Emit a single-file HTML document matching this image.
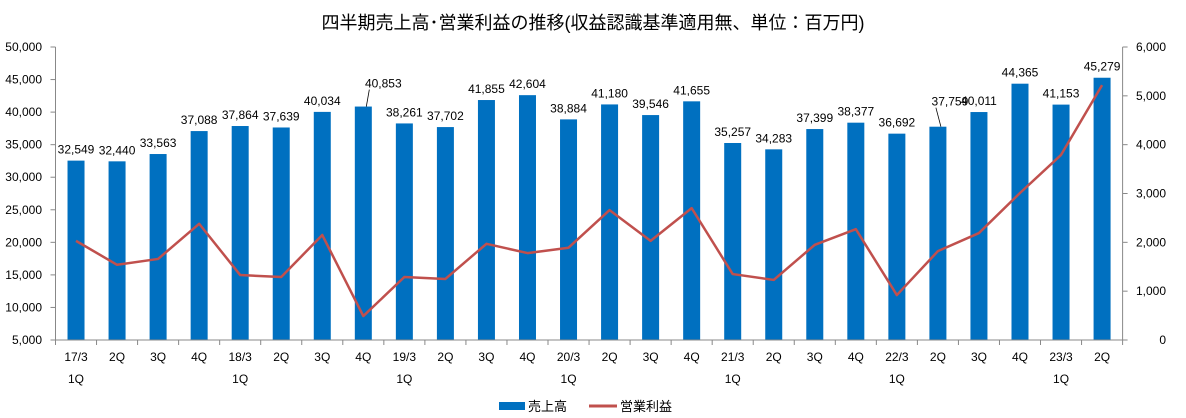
<!DOCTYPE html>
<html><head><meta charset="utf-8"><style>
body{margin:0;background:#fff;}
svg{display:block;font-family:"Liberation Sans","Noto Sans CJK JP",sans-serif;}
</style></head><body>
<svg id="chart" width="1186" height="418" viewBox="0 0 1186 418">
<text x="593" y="29" text-anchor="middle" font-size="18" fill="#000">四半期売上高･営業利益の推移(収益認識基準適用無、単位：百万円)</text>
<g id="grid"></g><g id="bars"></g><g id="line"></g><g id="labels"></g><g id="axes"></g>
<g>
<rect x="499" y="402" width="26" height="8" fill="#0070C0"/>
<text x="528" y="411" font-size="13">売上高</text>
<line x1="589" y1="406" x2="617" y2="406" stroke="#C0504D" stroke-width="3"/>
<text x="620" y="411" font-size="13">営業利益</text>
</g>
</svg>
<script>
const categories=["17/3|1Q","2Q","3Q","4Q","18/3|1Q","2Q","3Q","4Q","19/3|1Q","2Q","3Q","4Q","20/3|1Q","2Q","3Q","4Q","21/3|1Q","2Q","3Q","4Q","22/3|1Q","2Q","3Q","4Q","23/3|1Q","2Q"];
const sales=[32549,32440,33563,37088,37864,37639,40034,40853,38261,37702,41855,42604,38884,41180,39546,41655,35257,34283,37399,38377,36692,37759,40011,44365,41153,45279];
const profit=[2030,1540,1660,2380,1330,1290,2150,490,1290,1250,1970,1780,1890,2660,2030,2700,1350,1230,1950,2270,920,1820,2190,3010,3790,5220];
const leftTicks=[5000,10000,15000,20000,25000,30000,35000,40000,45000,50000];
const rightTicks=[0,1000,2000,3000,4000,5000,6000];
const NS="http://www.w3.org/2000/svg";
const L=55.5,R=1122.6,T=47,B=340;
const step=(R-L)/categories.length;
const xc=i=>L+step*(i+0.5);
const yL=v=>B-(v-5000)/45000*(B-T);
const yR=v=>B-v/6000*(B-T);
function mk(tag,attrs,parent,txt){const e=document.createElementNS(NS,tag);for(const k in attrs)e.setAttribute(k,attrs[k]);if(txt!==undefined)e.textContent=txt;document.getElementById(parent).appendChild(e);return e;}
const fmt=v=>v.toLocaleString("en-US");
leftTicks.forEach(v=>{
 const t=mk("text",{x:42,y:yL(v)+4,"text-anchor":"end","font-size":12},"axes",fmt(v));
 
 
 const tk=mk("line",{x1:L-5,x2:L,y1:yL(v),y2:yL(v),stroke:"#888"},"axes");
 
 
});
rightTicks.forEach(v=>{
 const t=mk("text",{x:1166,y:yR(v)+4,"text-anchor":"end","font-size":12},"axes",fmt(v));
 
 
 const tk=mk("line",{x1:R,x2:R+5,y1:yR(v),y2:yR(v),stroke:"#888"},"axes");
 
 
});
[["left-axis",L,L,T,B],["right-axis",R,R,T,B],["x-axis",L,R,B,B]].forEach(a=>{
 const l=mk("line",{x1:a[1],x2:a[2],y1:a[3],y2:a[4],stroke:"#888"},"axes");
 
 
});
for(let i=0;i<=categories.length;i++){
 const tk=mk("line",{x1:L+step*i,x2:L+step*i,y1:B,y2:B+5,stroke:"#888"},"axes");
 
 
}
categories.forEach((c,i)=>{
 const parts=c.split("|");
 parts.forEach((p,j)=>{
  const t=mk("text",{x:xc(i),y:361+j*22,"text-anchor":"middle","font-size":12},"axes",p);
  
  
 });
});
const offsets={7:[20,-12],21:[12,-14]};
sales.forEach((v,i)=>{
 const bw=17;
 const r=mk("rect",{x:xc(i)-bw/2,y:yL(v),width:bw,height:B-yL(v),fill:"#0070C0"},"bars");
 
 
 const o=offsets[i]||[0,0];
 const t=mk("text",{x:xc(i)+o[0],y:yL(v)-7+o[1],"text-anchor":"middle","font-size":12},"labels",fmt(v));
 
 
 if(offsets[i]){
  const ln=mk("line",{x1:xc(i)+o[0]-14,y1:yL(v)-7+o[1]+2,x2:xc(i)+3,y2:yL(v),stroke:"#000","stroke-width":0.8},"labels");
  
  
 }
});
const pts=profit.map((v,i)=>xc(i)+","+yR(v)).join(" ");
const pl=mk("polyline",{points:pts,fill:"none",stroke:"#C0504D","stroke-width":2.5,"stroke-linejoin":"round"},"line");


</script>
</body></html>
